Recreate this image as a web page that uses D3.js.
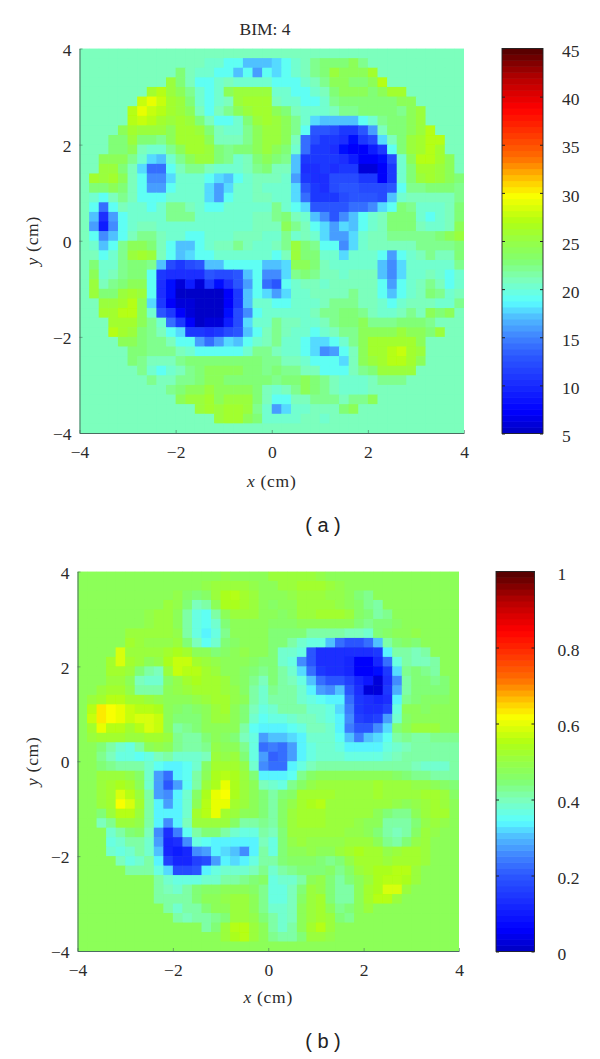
<!DOCTYPE html>
<html><head><meta charset="utf-8">
<script src="https://cdnjs.cloudflare.com/ajax/libs/d3/7.8.5/d3.min.js"></script>
<style>html,body{margin:0;padding:0;background:#fff}svg{display:block}</style>
</head><body><svg id="c" width="600" height="1059"></svg>
<script>
const gridA = [
[21,21,21,21,21,21,21,21,21,21,21,21,21,21,21,21,21,21,21,21,21,21,21,21,21,21,21,21,21,21,21,21,21,21,21,21,21,21,21,21],
[21,21,21,21,21,21,21,21,21,21,21,21,21,20,20,19,19,17,17,17,18,19,20,21,22,23,23,23,24,22,21,21,21,21,21,21,21,21,21,21],
[21,21,21,21,21,21,21,21,21,21,23,21,20,20,19,19,17,19,16,19,18,19,20,21,22,23,25,24,24,24,26,21,21,21,21,21,21,21,21,21],
[21,21,21,21,21,21,21,21,21,25,23,21,19,19,20,21,20,20,20,20,19,19,19,20,21,22,24,24,23,23,24,27,21,21,21,21,21,21,21,21],
[21,21,21,21,21,21,21,26,27,25,24,22,20,19,20,24,25,25,25,25,20,20,19,19,20,21,23,24,24,24,23,24,26,26,21,21,21,21,21,21],
[21,21,21,21,21,21,28,29,28,26,25,23,20,19,20,21,25,26,26,26,21,20,20,19,19,20,22,23,23,23,23,23,23,24,24,21,21,21,21,21],
[21,21,21,21,21,27,29,28,27,26,25,24,21,19,21,22,24,25,26,26,24,23,21,20,20,20,21,22,22,23,23,23,23,22,24,25,21,21,21,21],
[21,21,21,21,21,27,28,27,26,25,26,25,23,21,19,19,20,23,25,26,25,24,22,20,18,17,17,17,17,19,20,22,23,23,24,25,21,21,21,21],
[21,21,21,21,24,26,25,25,25,24,26,26,25,23,21,20,20,22,24,25,25,24,22,19,13,13,12,11,11,13,16,21,23,23,24,25,27,21,21,21],
[21,21,21,23,23,25,23,23,22,24,26,26,26,24,21,21,21,22,24,25,25,24,21,14,12,11,11,10,8,11,12,18,21,23,25,26,27,27,21,21],
[21,21,21,23,23,24,21,20,20,22,24,26,26,25,23,22,23,23,24,25,24,23,20,14,11,11,10,8,7,7,9,11,19,23,25,26,27,26,21,21],
[21,21,24,24,24,22,20,18,17,20,22,24,25,25,23,22,20,21,23,24,23,22,17,11,11,11,11,10,9,7,7,8,12,20,24,27,27,26,24,21],
[21,21,25,25,23,21,18,14,14,19,21,22,22,21,20,20,20,21,22,23,21,21,17,10,10,11,10,11,11,6,6,7,11,20,23,26,26,25,24,21],
[21,26,25,26,24,21,19,15,15,18,20,20,20,19,18,17,19,20,21,21,21,20,16,11,10,10,12,12,12,11,11,7,11,20,23,25,26,25,24,23],
[21,23,23,24,23,21,19,16,16,19,20,20,20,18,16,18,20,20,21,20,20,20,18,13,11,10,12,13,13,12,12,12,13,19,22,22,23,23,23,22],
[21,20,19,21,22,21,19,19,19,20,20,20,20,18,16,19,20,20,21,21,20,20,18,14,11,11,11,12,13,13,13,12,17,20,21,21,21,21,21,22],
[21,19,14,19,21,20,20,19,20,22,22,21,20,19,19,20,20,20,20,20,22,20,19,18,13,13,13,13,14,14,15,18,19,23,22,20,20,20,21,23],
[21,17,10,16,19,20,20,20,20,22,22,22,20,20,20,20,20,20,21,21,22,23,21,20,17,15,13,15,17,19,20,21,23,23,23,20,19,20,21,23],
[21,16,9,15,19,20,21,21,20,20,20,20,20,20,20,20,20,20,21,21,21,24,22,21,19,18,16,18,17,19,20,21,23,23,23,21,20,20,21,24],
[21,19,15,17,19,21,22,22,21,20,20,19,19,20,20,20,21,21,21,20,20,22,20,21,20,18,16,16,18,20,21,21,22,22,22,22,22,23,24,25],
[21,20,17,19,22,24,24,23,21,19,17,17,19,20,21,21,22,21,20,20,21,22,25,23,22,19,19,15,18,20,21,21,21,21,21,22,22,22,22,23],
[21,21,19,20,22,25,26,25,21,19,17,18,19,19,20,20,20,20,20,20,19,21,25,23,23,20,20,18,20,20,20,19,16,19,20,21,22,21,21,23],
[21,23,20,20,22,23,23,22,17,12,11,12,13,17,17,19,19,19,19,17,17,18,24,24,23,21,20,20,20,20,20,17,15,18,20,20,20,20,20,22],
[21,24,20,21,22,23,23,19,11,10,10,10,10,13,12,12,13,17,19,15,15,18,22,23,22,21,21,20,21,21,21,17,15,18,20,20,21,20,19,20],
[21,25,21,22,23,24,24,19,10,8,6,9,6,11,8,10,13,16,19,14,13,19,20,21,21,20,21,21,21,21,21,19,16,19,20,21,22,21,19,20],
[21,25,23,23,25,26,25,19,10,8,5,5,5,5,5,7,11,17,19,18,16,18,20,20,21,21,21,21,22,21,21,19,17,19,20,21,23,22,20,21],
[21,21,25,25,26,27,24,18,11,7,6,6,5,5,5,7,11,17,20,20,19,19,20,20,20,21,22,22,22,21,21,20,19,20,21,21,21,20,20,22],
[21,21,26,26,27,27,24,20,13,11,7,6,5,5,5,8,12,15,19,20,20,20,20,20,21,22,22,23,23,22,21,20,20,21,22,21,24,23,24,21],
[21,21,21,26,26,26,24,22,20,14,11,7,5,6,6,9,12,18,20,20,22,21,21,20,20,21,22,23,23,24,22,22,22,23,23,23,22,21,21,21],
[21,21,21,27,26,25,23,22,21,19,18,11,11,10,11,12,13,17,19,21,22,21,20,20,19,20,21,22,22,24,24,24,24,25,24,24,23,25,21,21],
[21,21,21,21,24,24,23,22,22,21,19,19,16,14,16,18,17,19,20,21,22,20,20,19,18,18,19,20,22,24,26,26,26,26,26,24,21,21,21,21],
[21,21,21,21,21,23,23,22,22,22,21,20,19,19,19,19,19,20,22,22,21,20,20,19,18,15,16,19,21,24,26,26,27,28,26,25,21,21,21,21],
[21,21,21,21,21,23,22,21,21,21,22,23,23,23,23,23,23,23,23,22,22,21,21,20,19,19,19,18,21,24,25,26,27,27,26,24,21,21,21,21],
[21,21,21,21,21,21,22,20,19,20,21,22,23,24,24,24,24,23,23,22,23,22,22,21,21,19,19,19,21,22,23,25,25,25,25,21,21,21,21,21],
[21,21,21,21,21,21,21,22,21,21,22,22,23,24,24,23,23,23,23,23,22,23,23,24,23,22,21,20,20,20,21,22,22,22,21,21,21,21,21,21],
[21,21,21,21,21,21,21,21,21,22,23,24,24,25,24,24,24,24,23,21,20,21,22,24,23,22,21,20,20,20,21,21,21,21,21,21,21,21,21,21],
[21,21,21,21,21,21,21,21,21,21,24,25,25,26,24,25,25,25,23,21,19,19,21,21,22,22,22,21,22,22,24,21,21,21,21,21,21,21,21,21],
[21,21,21,21,21,21,21,21,21,21,21,21,25,26,25,26,26,25,22,20,16,18,20,20,21,21,21,23,24,21,21,21,21,21,21,21,21,21,21,21],
[21,21,21,21,21,21,21,21,21,21,21,21,21,21,25,26,26,24,23,20,20,20,20,21,21,20,21,21,21,21,21,21,21,21,21,21,21,21,21,21],
[21,21,21,21,21,21,21,21,21,21,21,21,21,21,21,21,21,21,21,21,21,21,21,21,21,21,21,21,21,21,21,21,21,21,21,21,21,21,21,21]
];
const gridB = [
[47,47,47,47,47,47,47,47,47,47,47,47,47,47,48,49,48,47,47,47,50,50,50,51,50,49,47,47,47,47,47,47,47,47,47,47,47,47,47,47],
[47,47,47,47,47,47,47,47,47,47,47,47,48,49,50,51,51,50,49,48,48,50,51,52,52,52,50,49,47,47,47,47,47,47,47,47,47,47,47,47],
[47,47,47,47,47,47,47,47,47,47,49,46,44,46,50,54,55,53,50,48,47,47,49,50,50,51,49,49,47,44,43,47,47,47,47,47,47,47,47,47],
[47,47,47,47,47,47,47,47,47,50,49,44,40,42,48,54,54,52,50,47,46,47,48,50,50,50,50,49,48,46,43,42,47,47,47,47,47,47,47,47],
[47,47,47,47,47,47,47,49,50,50,48,41,36,35,41,48,50,51,50,47,47,46,47,50,50,52,52,52,50,46,44,42,43,47,47,47,47,47,47,47],
[47,47,47,47,47,47,47,49,50,50,48,41,36,35,38,44,47,48,48,47,46,46,46,48,48,48,48,47,47,45,43,44,44,46,48,47,47,47,47,47],
[47,47,47,47,47,50,50,50,50,50,49,41,36,34,36,43,47,47,47,47,44,45,45,44,42,42,42,41,40,40,39,45,46,47,48,49,47,47,47,47],
[47,47,47,47,47,52,50,49,49,49,50,45,40,35,38,44,46,47,48,47,44,44,42,38,36,36,30,23,20,20,22,30,42,44,46,45,47,47,47,47],
[47,47,47,47,58,50,50,50,50,53,54,52,47,47,45,46,47,49,48,47,44,39,38,36,20,14,14,14,14,14,13,15,33,42,42,40,42,47,47,47],
[47,47,47,53,58,52,50,48,49,54,57,57,52,51,49,47,47,47,46,45,44,39,37,26,20,14,13,13,12,6,5,12,22,37,42,40,40,42,47,47],
[47,47,47,53,53,50,45,41,40,50,57,56,55,52,50,48,47,46,44,43,45,42,39,32,23,15,14,14,12,5,6,7,15,32,43,44,43,42,47,47],
[47,47,47,51,50,47,40,38,39,46,49,53,54,53,52,50,48,46,43,40,44,42,40,36,30,22,20,20,16,11,8,2,14,25,41,44,44,43,44,47],
[47,47,50,52,52,49,41,41,41,47,49,50,52,52,52,51,49,46,42,39,43,42,41,38,34,28,25,31,20,14,3,2,15,29,41,44,45,45,44,47],
[47,50,52,55,55,53,52,50,49,48,47,47,49,51,52,53,49,47,42,39,42,42,41,39,37,35,33,33,23,15,13,12,13,33,43,45,46,46,46,47],
[47,55,64,62,60,57,55,55,54,47,46,45,46,48,51,53,48,45,40,37,38,41,42,41,39,38,36,32,24,15,14,13,16,36,47,48,46,47,47,48],
[47,57,64,62,60,57,58,58,57,47,44,44,45,47,50,50,47,44,38,35,36,37,38,40,40,39,37,33,25,16,15,17,27,38,46,47,48,48,47,48],
[47,53,60,56,55,53,55,58,57,47,42,43,45,47,48,48,47,42,35,33,33,33,35,37,40,40,38,34,24,20,20,25,32,44,48,50,50,50,48,47],
[47,51,52,52,52,50,50,52,52,50,43,42,42,44,47,46,45,40,36,27,30,30,32,34,38,39,38,35,30,24,30,32,35,41,43,42,42,43,43,43],
[47,47,44,41,38,37,41,47,49,47,43,42,41,43,49,48,47,43,36,23,24,23,27,34,37,38,38,37,33,33,33,33,36,38,40,42,42,42,42,42],
[47,47,43,40,37,36,35,36,40,41,39,39,38,40,50,49,50,44,37,27,21,23,27,33,36,38,38,38,37,37,37,37,39,40,41,41,41,41,41,41],
[47,47,44,43,42,42,41,38,35,34,33,35,38,46,52,53,52,49,38,26,23,23,33,36,40,41,41,41,41,41,42,42,42,42,41,40,39,38,39,42],
[47,48,50,50,50,49,46,38,27,23,33,35,42,48,54,55,54,50,45,34,33,33,35,43,46,47,47,47,47,47,47,47,47,46,45,43,43,42,42,41],
[47,48,51,53,54,52,47,38,28,20,27,35,42,50,54,60,54,51,47,40,38,37,43,46,49,50,50,50,50,50,51,52,51,50,50,49,49,48,46,44],
[47,47,50,53,58,56,50,42,28,25,33,38,46,54,60,61,54,51,47,44,42,44,46,52,53,53,52,50,50,50,51,52,51,50,50,50,52,52,50,46],
[47,47,50,53,61,58,52,42,33,28,33,39,48,55,60,60,53,50,47,45,42,46,49,52,54,55,50,50,50,50,51,51,50,49,48,49,51,53,51,47],
[47,47,45,50,56,56,51,42,33,33,34,39,52,55,60,53,51,48,47,44,42,46,50,52,53,53,50,50,50,50,50,48,44,43,43,47,51,52,52,48],
[47,47,40,43,50,51,49,42,33,26,33,40,50,51,50,50,46,42,42,43,42,46,50,52,52,52,50,50,50,49,48,48,42,41,41,45,49,50,49,47],
[47,47,47,39,42,45,46,40,25,13,24,35,42,45,44,41,38,36,37,42,40,45,50,51,50,50,50,50,49,49,48,45,41,40,41,46,50,49,47,47],
[47,47,47,36,38,42,42,39,27,11,13,25,36,35,33,33,34,33,33,40,37,44,49,50,49,49,49,49,51,51,50,47,43,42,44,49,51,48,47,47],
[47,47,47,38,36,38,41,38,31,11,10,12,25,27,33,32,30,26,33,41,37,44,48,48,49,48,48,50,53,54,53,52,49,50,52,52,50,47,47,47],
[47,47,47,47,40,36,38,41,34,16,12,12,16,18,27,33,32,33,36,41,42,45,46,46,46,44,43,45,49,52,53,52,51,53,53,52,50,47,47,47],
[47,47,47,47,47,42,41,41,36,32,18,18,19,33,36,38,38,39,40,43,39,41,43,44,45,45,46,43,46,51,52,54,54,55,56,51,47,47,47,47],
[47,47,47,47,47,47,47,47,41,39,36,36,37,38,39,41,42,43,45,46,37,38,39,42,48,49,45,41,44,48,51,54,55,55,54,51,47,47,47,47],
[47,47,47,47,47,47,47,47,42,40,38,42,45,46,46,47,47,47,46,43,36,37,40,44,50,49,45,41,42,47,52,54,58,59,50,47,47,47,47,47],
[47,47,47,47,47,47,47,47,42,41,41,41,44,47,48,49,50,50,48,43,36,37,40,46,51,52,45,41,42,47,53,55,55,50,47,47,47,47,47,47],
[47,47,47,47,47,47,47,47,47,42,38,41,42,44,47,48,50,50,48,43,39,39,40,47,51,53,48,43,44,48,50,48,47,47,47,47,47,47,47,47],
[47,47,47,47,47,47,47,47,47,47,41,40,41,42,43,45,50,50,49,45,41,38,40,47,50,53,50,45,43,47,47,47,47,47,47,47,47,47,47,47],
[47,47,47,47,47,47,47,47,47,47,47,47,47,42,44,50,55,56,50,47,42,39,42,48,52,56,50,48,47,47,47,47,47,47,47,47,47,47,47,47],
[47,47,47,47,47,47,47,47,47,47,47,47,47,47,47,50,54,56,51,47,43,41,42,45,50,50,49,47,47,47,47,47,47,47,47,47,47,47,47,47],
[47,47,47,47,47,47,47,47,47,47,47,47,47,47,47,47,47,47,47,47,47,47,47,47,47,47,47,47,47,47,47,47,47,47,47,47,47,47,47,47]
];
const axisTicks = [-4,-2,0,2,4];
const barTicksA = [5,10,15,20,25,30,35,40,45];
const barTicksB = [0,0.2,0.4,0.6,0.8,1];
const stopT = [0,.05,.125,.2,.25,.3,.34,.4,.45,.5,.55,.62,.66,.72,.8,.85,.93,1];
const stopC = ["#0000c8","#0000ff","#192dff","#2d5aff","#4187ff","#50beff","#5affff","#7dffb9","#82ff6e","#96ff46","#afff14","#faff00","#ffc800","#ff6e00","#ff2800","#ff0000","#b40000","#5a0000"];
const jet = d3.scaleLinear().domain(stopT).range(stopC).interpolate(d3.interpolateRgb);
const LEVELS = 64;
const levelColor = t => jet(Math.min(LEVELS-1, Math.floor(t*LEVELS))/(LEVELS-1));
const svg = d3.select("#c");
const SERIF = "'Liberation Serif',serif";
const FS = 17.5;
const TXT = "#2a2a2a";
const AXC = "#4a6e60";
const defs = svg.append("defs");
defs.append("filter").attr("id","soft").attr("x","-2%").attr("y","-2%").attr("width","104%").attr("height","104%")
  .append("feGaussianBlur").attr("stdDeviation",.7);

function panel(o){
  const x = d3.scaleLinear().domain([-4,4]).range([o.x0,o.x1]);
  const y = d3.scaleLinear().domain([-4,4]).range([o.y1,o.y0]);
  const n = o.grid.length;
  const bx = d3.scaleBand().domain(d3.range(n)).range([o.x0,o.x1]);
  const by = d3.scaleBand().domain(d3.range(n)).range([o.y0,o.y1]);
  const vt = d3.scaleLinear().domain(o.valueDomain).range([0,1]);
  const cell = d => levelColor(Math.max(0,Math.min(.999,vt(d))));
  defs.append("clipPath").attr("id",o.id).append("rect")
    .attr("x",o.x0).attr("y",o.y0).attr("width",o.x1-o.x0).attr("height",o.y1-o.y0);
  const clip = svg.append("g").attr("clip-path",`url(#${o.id})`);
  clip.append("rect").attr("x",o.x0).attr("y",o.y0).attr("width",o.x1-o.x0).attr("height",o.y1-o.y0)
    .attr("fill",cell(o.grid[0][0]));
  const g = clip.append("g").attr("filter","url(#soft)");
  o.grid.forEach((row,r)=>{
    g.selectAll(null).data(row).join("rect")
      .attr("x",(d,c)=>bx(c)).attr("y",by(r))
      .attr("width",bx.bandwidth()+.5).attr("height",by.bandwidth()+.5)
      .attr("fill",cell);
  });
  const styleAxis = (s)=>{
    s.selectAll("text").attr("font-family",SERIF).attr("font-size",FS).attr("fill",TXT);
    s.selectAll("line").attr("stroke",AXC).attr("stroke-width",.6);
    s.select(".domain").attr("stroke",AXC).attr("stroke-width",1);
  };
  svg.append("g").attr("transform",`translate(0,${o.y1})`)
    .call(d3.axisBottom(x).tickValues(axisTicks).tickSize(-3).tickSizeOuter(0).tickPadding(13)).call(styleAxis);
  svg.append("g").attr("transform",`translate(${o.x0},0)`)
    .call(d3.axisLeft(y).tickValues(axisTicks).tickSize(-3).tickSizeOuter(0).tickPadding(8)).call(styleAxis)
    .selectAll("text").attr("dy","0.38em");
  const tx = svg.append("text").attr("x",(o.x0+o.x1)/2).attr("y",o.y1+o.xLab).attr("text-anchor","middle")
    .attr("font-family",SERIF).attr("font-size",FS).attr("fill",TXT).attr("letter-spacing",.7);
  tx.append("tspan").attr("font-style","italic").text("x");
  tx.append("tspan").text(" (cm)");
  const ty = svg.append("text").attr("transform",`translate(${o.yLabX},${(o.y0+o.y1)/2}) rotate(-90)`).attr("text-anchor","middle")
    .attr("font-family",SERIF).attr("font-size",FS).attr("fill",TXT).attr("letter-spacing",.7);
  ty.append("tspan").attr("font-style","italic").text("y");
  ty.append("tspan").text(" (cm)");
  if(o.title) svg.append("text").attr("x",o.titleX).attr("y",o.titleY).attr("text-anchor","middle")
    .attr("font-family",SERIF).attr("font-size",FS).attr("fill",TXT).text(o.title);
  const cy = d3.scaleLinear().domain(o.valueDomainBar).range([o.y1Bar,o.y0Bar]);
  const lv = d3.scaleBand().domain(d3.range(LEVELS)).range([o.y1Bar,o.y0Bar]);
  svg.append("g").selectAll("rect").data(d3.range(LEVELS)).join("rect")
    .attr("x",o.bx0).attr("width",o.bx1-o.bx0)
    .attr("y",d=>lv(d)-.3).attr("height",lv.bandwidth()+.6)
    .attr("fill",d=>levelColor((d+.5)/LEVELS));
  svg.append("rect").attr("x",o.bx0).attr("y",o.y0Bar).attr("width",o.bx1-o.bx0).attr("height",o.y1Bar-o.y0Bar)
    .attr("fill","none").attr("stroke","#222").attr("stroke-width",.9);
  const cax = svg.append("g").attr("transform",`translate(${o.bx1},0)`)
    .call(d3.axisRight(cy).tickValues(o.barTicks).tickSize(-3).tickSizeOuter(0).tickPadding(o.barPad).tickFormat(d3.format("")));
  cax.select(".domain").remove();
  cax.selectAll("line").attr("stroke","#222");
  cax.selectAll("text").attr("font-family",SERIF).attr("font-size",FS).attr("fill",TXT).attr("dy","0.47em");
  svg.append("g").attr("transform",`translate(${o.bx0},0)`)
    .call(d3.axisRight(cy).tickValues(o.barTicks).tickSize(3).tickFormat(""))
    .call(s=>{s.select(".domain").remove();s.selectAll("line").attr("stroke","#222");});
  svg.append("text").attr("x",o.capX).attr("y",o.capY).attr("text-anchor","middle")
    .attr("font-family","'Liberation Sans',sans-serif").attr("font-size",20).attr("fill","#222").text(o.caption);
}
panel({id:"pa",grid:gridA,valueDomain:[5,45],valueDomainBar:[5,45],barTicks:barTicksA,barPad:19,
  x0:79.5,x1:464,y0:48.5,y1:433,xLab:54,yLabX:38,title:"BIM: 4",titleX:265,titleY:35,
  bx0:502,bx1:543,y0Bar:48.5,y1Bar:433.5,caption:"( a )",capX:323,capY:532});
panel({id:"pb",grid:gridB,valueDomain:[0,100],valueDomainBar:[0,1],barTicks:barTicksB,barPad:23,
  x0:77.5,x1:459,y0:571.5,y1:951,xLab:52,yLabX:38,title:null,
  bx0:496,bx1:534.5,y0Bar:571.5,y1Bar:951.5,caption:"( b )",capX:323,capY:1048});
</script></body></html>
